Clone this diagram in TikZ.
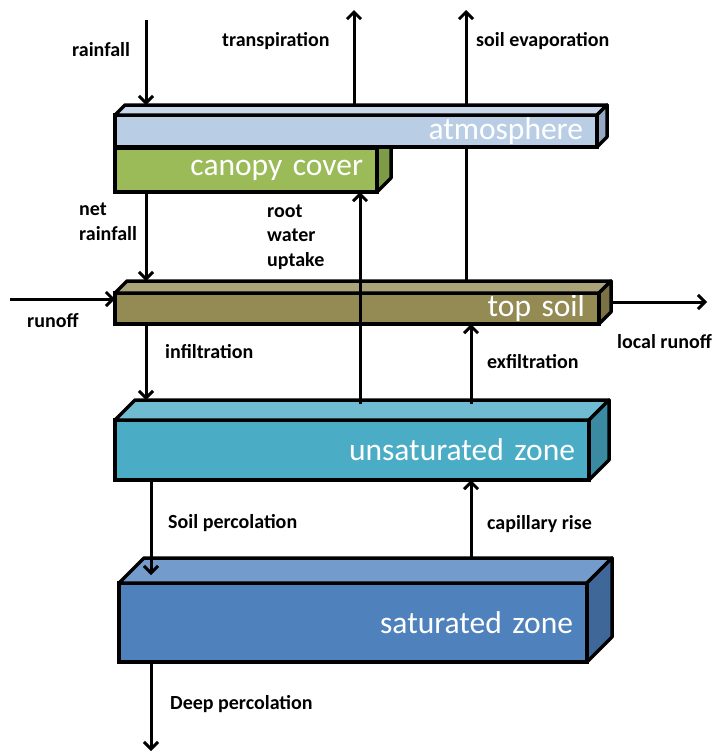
\documentclass[tikz,border=0pt]{standalone}
\usepackage{fontspec}
\setmainfont{Carlito}
\usetikzlibrary{arrows.meta,calc}
\definecolor{canfront}{HTML}{9BBB59}
\definecolor{cantop}{HTML}{AFC97A}
\definecolor{canside}{HTML}{7E9B47}
\definecolor{atmfront}{HTML}{B9CDE5}
\definecolor{atmtop}{HTML}{C8D7EA}
\definecolor{atmside}{HTML}{95A9C2}
\definecolor{tsoilfront}{HTML}{948A54}
\definecolor{tsoiltop}{HTML}{ABA478}
\definecolor{tsoilside}{HTML}{7A7144}
\definecolor{unsatfront}{HTML}{4BACC6}
\definecolor{unsattop}{HTML}{6FBCD2}
\definecolor{unsatside}{HTML}{3A8BA1}
\definecolor{satfront}{HTML}{4F81BD}
\definecolor{sattop}{HTML}{739BCB}
\definecolor{satside}{HTML}{3F6898}
\protected\def\slabfont{\fontsize{31.5}{34}\selectfont\spaceskip=0.2em\relax}
\pgfdeclarelayer{behind}
\pgfsetlayers{behind,main}
\tikzset{
    %Define standard arrow tip
    >={Straight Barb[length=7pt,width=14pt]},
    %Define style for the soil boxes
    slab/.style={
           rectangle,
           anchor=north west,
           draw=black, line width=3.5pt,
           outer sep=0pt,
           inner xsep=14pt, inner ysep=0pt,
           align=right,
           text=white,
           font=\slabfont},
    face/.style={draw=black, line width=3.5pt, line join=round},
    % Define arrow style
    flow/.style={
	   ->,
	   line width=3pt},
    % Define label style
    lbl/.style={anchor=base west, align=left, inner sep=0pt,
           font=\bfseries\fontsize{20}{24.5}\selectfont}
}

\begin{document}
\begin{tikzpicture}[x=1pt,y=-1pt]
  \useasboundingbox (0,0) rectangle (718,753);
  % boxes, from back to front
  \foreach \n/\x/\y/\w/\h/\d/\t in {
      can/115/148/262/44/14/canopy cover,
      atm/115/115/482/32/10/atmosphere,
      tsoil/115/293/484/31/12/top soil,
      unsat/115/420/474/60/20/unsaturated zone,
      sat/119/583/468/79/25/saturated zone}{
    \pgfmathsetmacro\tw{\w-28}
    \node[slab, fill=\n front, text width=\tw pt, minimum height=\h pt] (\n) at (\x,\y) {\t};
    \draw[face, fill=\n top] (\n.north west) -- ++(\d,-\d) -- ([shift={(\d,-\d)}]\n.north east) -- (\n.north east) -- cycle;
    \draw[face, fill=\n side] (\n.north east) -- ++(\d,-\d) -- ([shift={(\d,-\d)}]\n.south east) -- (\n.south east) -- cycle;
    \coordinate (\n-back) at ([shift={(\d,-\d)}]\n.north west);
  }
  % free ends of the arrows
  \coordinate (rain in) at (146,20);
  \coordinate (transp out) at (354,10);
  \coordinate (evap out) at (466,10);
  \coordinate (runoff in) at (10,299);
  \coordinate (local out) at (707,302);
  \coordinate (uptake) at (360,404);
  \coordinate (exfil) at (471,404);
  \coordinate (deep out) at (151,751);
  % fluxes
  \begin{pgfonlayer}{behind}
    \draw[flow] (evap out |- tsoil-back) -- (evap out);
    \draw[flow] (local out -| tsoil.east) -- (local out);
  \end{pgfonlayer}
  \draw[flow] (rain in) -- (rain in |- atm-back);
  \draw[flow] (transp out |- atm-back) -- (transp out);
  \draw[flow] (can.south -| rain in) -- (rain in |- tsoil-back);
  \draw[flow] (uptake) -- (uptake |- can.south);
  \draw[flow] (runoff in) -- (runoff in -| tsoil.west);
  \draw[flow] (tsoil.south -| rain in) -- (rain in |- unsat-back);
  \draw[flow] (exfil) -- (exfil |- tsoil.south);
  \draw[flow] (unsat.south -| deep out) -- ([yshift=8pt]sat.north -| deep out);
  \draw[flow] (sat-back -| exfil) -- (unsat.south -| exfil);
  \draw[flow] (sat.south -| deep out) -- (deep out);
  % labels
  \node[lbl] (rainlbl) at (72,56) {rainfall};
  \node[lbl] (transplbl) at (222,46) {transpiration};
  \node[lbl] (evaplbl) at (476,46) {soil evaporation};
  \node[lbl, anchor=west] (netlbl) at (79,222) {net\\rainfall};
  \node[lbl, anchor=west] (uptakelbl) at (267,237) {root\\water\\uptake};
  \node[lbl] (runofflbl) at (27,327) {runoff};
  \node[lbl] (locallbl) at (617,348) {local runoff};
  \node[lbl] (infillbl) at (165,358) {infiltration};
  \node[lbl] (exfillbl) at (487,368) {exfiltration};
  \node[lbl] (perclbl) at (168,528) {Soil percolation};
  \node[lbl] (capilbl) at (487,529) {capillary rise};
  \node[lbl] (deeplbl) at (170,709) {Deep percolation};
\end{tikzpicture}
\end{document}
